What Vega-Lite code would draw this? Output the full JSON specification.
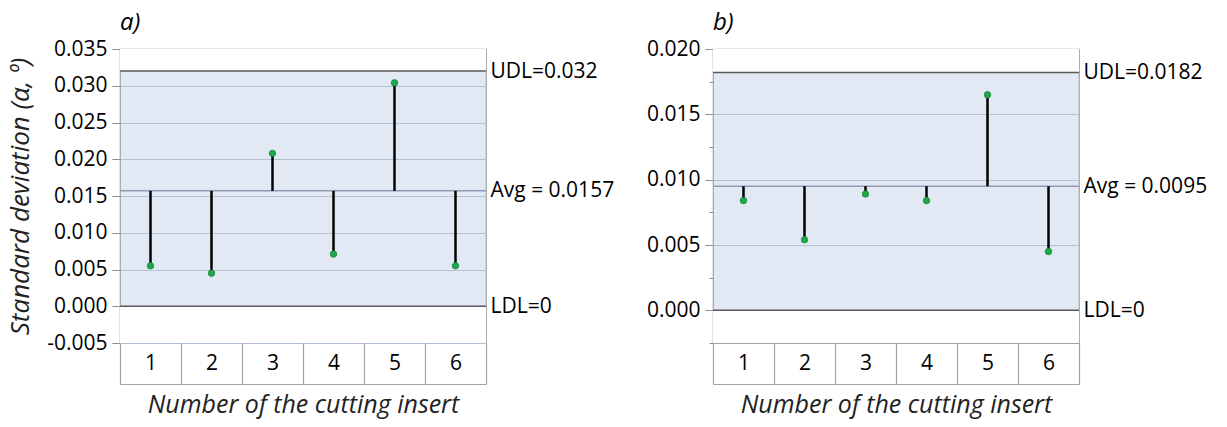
{
  "$schema": "https://vega.github.io/schema/vega-lite/v6.json",
  "background": "white",
  "padding": {"left": 7, "top": 10, "right": 0, "bottom": 0},
  "datasets": {
    "insertsA": [
      {"insert": "1", "sd": 0.0055},
      {"insert": "2", "sd": 0.0045},
      {"insert": "3", "sd": 0.0208},
      {"insert": "4", "sd": 0.0071},
      {"insert": "5", "sd": 0.0304},
      {"insert": "6", "sd": 0.0055}
    ],
    "insertsB": [
      {"insert": "1", "sd": 0.0084},
      {"insert": "2", "sd": 0.0054},
      {"insert": "3", "sd": 0.0089},
      {"insert": "4", "sd": 0.0084},
      {"insert": "5", "sd": 0.0165},
      {"insert": "6", "sd": 0.0045}
    ],
    "limitsA": [{"udl": 0.032, "avg": 0.0157, "ldl": 0}],
    "limitsB": [{"udl": 0.0182, "avg": 0.0095, "ldl": 0}]
  },
  "spacing": 30,
  "hconcat": [
    {
      "title": {"text": "a)"},
      "width": 366,
      "height": 294,
      "resolve": {"axis": {"y": "independent"}},
      "layer": [
        {
          "data": {"name": "insertsA"},
          "mark": {"type": "rect", "color": "white"},
          "encoding": {
            "x": {"field": "insert", "type": "nominal", "scale": {"paddingInner": 0, "paddingOuter": 0}, "axis": {"title": "Number of the cutting insert"}},
            "y": {
              "datum": 0.032, "type": "quantitative",
              "scale": {"domain": [-0.005, 0.035], "nice": false, "zero": false},
              "axis": {
                "orient": "left",
                "title": "Standard deviation (α, º)",
                "values": [-0.005, 0, 0.005, 0.01, 0.015, 0.02, 0.025, 0.03, 0.035],
                "format": ".3f",
                "labelExpr": "replace(datum.label, '−', '-')"
              }
            },
            "y2": {"datum": 0.035}
          }
        },
        {
          "data": {"name": "insertsA"},
          "mark": {"type": "rect", "color": "white"},
          "encoding": {
            "x": {"field": "insert", "type": "nominal", "scale": {"paddingInner": 0, "paddingOuter": 0}, "axis": {"title": "Number of the cutting insert"}},
            "y": {"datum": -0.005, "type": "quantitative", "scale": {"domain": [-0.005, 0.035], "nice": false, "zero": false}, "axis": null},
            "y2": {"datum": 0}
          }
        },
        {
          "data": {"name": "limitsA"},
          "mark": {"type": "rule", "color": "#5a5a5a", "strokeWidth": 1.5},
          "encoding": {
            "y": {
              "field": "udl", "type": "quantitative",
              "scale": {"domain": [-0.005, 0.035], "nice": false, "zero": false},
              "axis": {
                "orient": "right",
                "title": null,
                "values": [0, 0.0157, 0.032],
                "labelExpr": "datum.value == 0 ? 'LDL=0' : datum.value > 0.03 ? 'UDL=0.032' : 'Avg = 0.0157'"
              }
            }
          }
        },
        {
          "data": {"name": "limitsA"},
          "mark": {"type": "rule", "color": "#8f9bb3", "strokeWidth": 1.5},
          "encoding": {
            "y": {"field": "avg", "type": "quantitative", "scale": {"domain": [-0.005, 0.035], "nice": false, "zero": false}, "axis": null}
          }
        },
        {
          "data": {"name": "limitsA"},
          "mark": {"type": "rule", "color": "#5a5a5a", "strokeWidth": 1.5},
          "encoding": {
            "y": {"field": "ldl", "type": "quantitative", "scale": {"domain": [-0.005, 0.035], "nice": false, "zero": false}, "axis": null}
          }
        },
        {
          "data": {"name": "insertsA"},
          "mark": {"type": "rule", "color": "black", "strokeWidth": 2.5},
          "encoding": {
            "x": {"field": "insert", "type": "nominal", "scale": {"paddingInner": 0, "paddingOuter": 0}, "axis": {"title": "Number of the cutting insert"}},
            "y": {"field": "sd", "type": "quantitative", "scale": {"domain": [-0.005, 0.035], "nice": false, "zero": false}, "axis": null},
            "y2": {"datum": 0.0157}
          }
        },
        {
          "data": {"name": "insertsA"},
          "mark": {"type": "circle", "color": "#1fa84a", "opacity": 1, "size": 42, "stroke": "#178a3a", "strokeWidth": 0.8},
          "encoding": {
            "x": {"field": "insert", "type": "nominal", "scale": {"paddingInner": 0, "paddingOuter": 0}, "axis": {"title": "Number of the cutting insert"}},
            "y": {"field": "sd", "type": "quantitative", "scale": {"domain": [-0.005, 0.035], "nice": false, "zero": false}, "axis": null}
          }
        }
      ]
    },
    {
      "title": {"text": "b)"},
      "width": 366,
      "height": 294,
      "resolve": {"axis": {"y": "independent"}},
      "layer": [
        {
          "data": {"name": "insertsB"},
          "mark": {"type": "rect", "color": "white"},
          "encoding": {
            "x": {"field": "insert", "type": "nominal", "scale": {"paddingInner": 0, "paddingOuter": 0}, "axis": {"title": "Number of the cutting insert"}},
            "y": {
              "datum": 0.0182, "type": "quantitative",
              "scale": {"domain": [-0.0025, 0.02], "nice": false, "zero": false},
              "axis": {
                "orient": "left",
                "title": null,
                "values": [-0.0025, 0, 0.0025, 0.005, 0.0075, 0.01, 0.0125, 0.015, 0.0175, 0.02],
                "format": ".3f",
                "labelExpr": "abs(datum.value * 200 - round(datum.value * 200)) > 0.01 ? '' : replace(datum.label, '−', '-')",
                "tickSize": {"condition": {"test": "abs(datum.value * 200 - round(datum.value * 200)) > 0.01", "value": 4}, "value": 8},
                "gridOpacity": {"condition": {"test": "abs(datum.value * 200 - round(datum.value * 200)) > 0.01", "value": 0}, "value": 1}
              }
            },
            "y2": {"datum": 0.02}
          }
        },
        {
          "data": {"name": "insertsB"},
          "mark": {"type": "rect", "color": "white"},
          "encoding": {
            "x": {"field": "insert", "type": "nominal", "scale": {"paddingInner": 0, "paddingOuter": 0}, "axis": {"title": "Number of the cutting insert"}},
            "y": {"datum": -0.0025, "type": "quantitative", "scale": {"domain": [-0.0025, 0.02], "nice": false, "zero": false}, "axis": null},
            "y2": {"datum": 0}
          }
        },
        {
          "data": {"name": "limitsB"},
          "mark": {"type": "rule", "color": "#5a5a5a", "strokeWidth": 1.5},
          "encoding": {
            "y": {
              "field": "udl", "type": "quantitative",
              "scale": {"domain": [-0.0025, 0.02], "nice": false, "zero": false},
              "axis": {
                "orient": "right",
                "title": null,
                "values": [0, 0.0095, 0.0182],
                "labelExpr": "datum.value == 0 ? 'LDL=0' : datum.value > 0.015 ? 'UDL=0.0182' : 'Avg = 0.0095'"
              }
            }
          }
        },
        {
          "data": {"name": "limitsB"},
          "mark": {"type": "rule", "color": "#8f9bb3", "strokeWidth": 1.5},
          "encoding": {
            "y": {"field": "avg", "type": "quantitative", "scale": {"domain": [-0.0025, 0.02], "nice": false, "zero": false}, "axis": null}
          }
        },
        {
          "data": {"name": "limitsB"},
          "mark": {"type": "rule", "color": "#5a5a5a", "strokeWidth": 1.5},
          "encoding": {
            "y": {"field": "ldl", "type": "quantitative", "scale": {"domain": [-0.0025, 0.02], "nice": false, "zero": false}, "axis": null}
          }
        },
        {
          "data": {"name": "insertsB"},
          "mark": {"type": "rule", "color": "black", "strokeWidth": 2.5},
          "encoding": {
            "x": {"field": "insert", "type": "nominal", "scale": {"paddingInner": 0, "paddingOuter": 0}, "axis": {"title": "Number of the cutting insert"}},
            "y": {"field": "sd", "type": "quantitative", "scale": {"domain": [-0.0025, 0.02], "nice": false, "zero": false}, "axis": null},
            "y2": {"datum": 0.0095}
          }
        },
        {
          "data": {"name": "insertsB"},
          "mark": {"type": "circle", "color": "#1fa84a", "opacity": 1, "size": 42, "stroke": "#178a3a", "strokeWidth": 0.8},
          "encoding": {
            "x": {"field": "insert", "type": "nominal", "scale": {"paddingInner": 0, "paddingOuter": 0}, "axis": {"title": "Number of the cutting insert"}},
            "y": {"field": "sd", "type": "quantitative", "scale": {"domain": [-0.0025, 0.02], "nice": false, "zero": false}, "axis": null}
          }
        }
      ]
    }
  ],
  "config": {
    "font": "Open Sans",
    "view": {"fill": "#e2e9f4", "stroke": "#a3a3a3", "strokeWidth": 1.2},
    "title": {"anchor": "start", "frame": "group", "fontStyle": "italic", "fontWeight": "normal", "fontSize": 24, "color": "black", "offset": 3, "font": "Open Sans"},
    "axis": {
      "labelFont": "Open Sans",
      "labelFontSize": 21,
      "labelColor": "black",
      "titleFont": "Open Sans",
      "titleFontSize": 25,
      "titleFontStyle": "italic",
      "titleFontWeight": "normal",
      "titleColor": "#222222",
      "tickColor": "#8c8c8c",
      "domainColor": "#a3a3a3"
    },
    "axisX": {
      "offset": 41,
      "tickBand": "extent",
      "tickSize": -41,
      "tickColor": "#a3a3a3",
      "tickWidth": 1.2,
      "domainWidth": 1.2,
      "labelAngle": 0,
      "labelBaseline": "middle",
      "labelPadding": 20.5,
      "titlePadding": 8,
      "grid": false
    },
    "axisLeft": {
      "domain": false,
      "tickSize": 8,
      "labelPadding": 5,
      "grid": true,
      "gridColor": "#b4c0d4",
      "gridWidth": 1,
      "titlePadding": 13,
      "titleFontSize": 26
    },
    "axisRight": {
      "domain": false,
      "ticks": false,
      "tickSize": 0,
      "labelPadding": 4,
      "grid": false
    }
  }
}
